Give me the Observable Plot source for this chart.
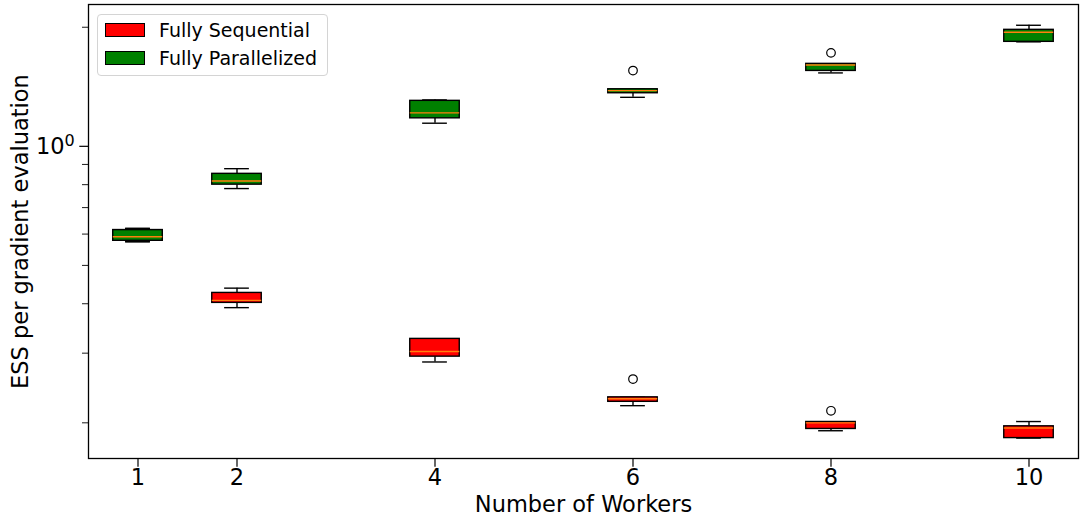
<!DOCTYPE html>
<html>
<head>
<meta charset="utf-8">
<script src="https://cdn.jsdelivr.net/npm/d3@7"></script>
<script src="https://cdn.jsdelivr.net/npm/@observablehq/plot@0.6"></script>
<style>
  html, body { margin: 0; padding: 0; background: white; }
  #wrap { position: relative; width: 1082px; height: 516px; font-family: "DejaVu Sans", sans-serif; }
  #legend {
    position: absolute; left: 97px; top: 14px; width: 229px; height: 60px;
    border: 1px solid #d4d4d4; border-radius: 4px; background: rgba(255,255,255,0.8);
  }
  .sw { position: absolute; left: 7px; width: 38px; height: 12px; border: 1px solid black; }
  .lt { position: absolute; left: 61px; font-size: 19px; line-height: 20px; color: black; white-space: nowrap; }
</style>
</head>
<body>
<div id="wrap">
  <div id="chart"></div>
  <div id="legend">
    <div class="sw" style="top:8px;background:red"></div>
    <div class="lt" style="top:5px">Fully Sequential</div>
    <div class="sw" style="top:36px;background:green"></div>
    <div class="lt" style="top:33px">Fully Parallelized</div>
  </div>
</div>
<script>
// Number of workers on the x axis
const workers = [1, 2, 4, 6, 8, 10];

// Fully sequential: whisker low, Q1, median, Q3, whisker high
const seqLow  = [0.574, 0.391, 0.285, 0.221, 0.191, 0.183];
const seqQ1   = [0.577, 0.402, 0.294, 0.226, 0.193, 0.183];
const seqMed  = [0.591, 0.408, 0.303, 0.230, 0.200, 0.194];
const seqQ3   = [0.614, 0.426, 0.326, 0.232, 0.201, 0.196];
const seqHigh = [0.620, 0.438, 0.326, 0.232, 0.201, 0.2015];

// Fully parallelized
const parLow  = [0.574, 0.782, 1.144, 1.330, 1.533, 1.837];
const parQ1   = [0.577, 0.800, 1.177, 1.362, 1.551, 1.837];
const parMed  = [0.591, 0.817, 1.215, 1.383, 1.606, 1.943];
const parQ3   = [0.614, 0.852, 1.303, 1.394, 1.616, 1.970];
const parHigh = [0.620, 0.878, 1.310, 1.394, 1.616, 2.023];

// Outliers (fliers)
const outWorkers = [6, 8, 6, 8];
const outValues  = [0.258, 0.2145, 1.554, 1.723];

// Y axis ticks
const minorTicks = [0.2, 0.3, 0.4, 0.5, 0.6, 0.7, 0.8, 0.9, 2];
const majorTicks = [1];

const boxHalf = 0.25;   // half box width (x units)
const capHalf = 0.125;  // half whisker cap width

function rows(low, q1, med, q3, high) {
  return workers.map((w, i) => ({workers: w, low: low[i], q1: q1[i], med: med[i], q3: q3[i], high: high[i]}));
}
const seqRows = rows(seqLow, seqQ1, seqMed, seqQ3, seqHigh);
const parRows = rows(parLow, parQ1, parMed, parQ3, parHigh);
const outliers = outWorkers.map((w, i) => ({workers: w, value: outValues[i]}));

function boxMarks(data, color) {
  return [
    Plot.ruleX(data, {x: "workers", y1: "low", y2: "q1", stroke: "black", strokeWidth: 1.4}),
    Plot.ruleX(data, {x: "workers", y1: "q3", y2: "high", stroke: "black", strokeWidth: 1.4}),
    Plot.ruleY(data, {y: "low", x1: d => d.workers - capHalf, x2: d => d.workers + capHalf, stroke: "black", strokeWidth: 1.4}),
    Plot.ruleY(data, {y: "high", x1: d => d.workers - capHalf, x2: d => d.workers + capHalf, stroke: "black", strokeWidth: 1.4}),
    Plot.rect(data, {x1: d => d.workers - boxHalf, x2: d => d.workers + boxHalf, y1: "q1", y2: "q3", fill: color, stroke: "black", strokeWidth: 1.4}),
    Plot.ruleY(data, {y: "med", x1: d => d.workers - boxHalf, x2: d => d.workers + boxHalf, stroke: "#ff7f0e", strokeWidth: 1.4})
  ];
}

const chart = Plot.plot({
  width: 1082,
  height: 516,
  marginLeft: 88,
  marginRight: 4,
  marginTop: 4,
  marginBottom: 58,
  style: {fontFamily: "DejaVu Sans", fontSize: "22.5px", color: "black", background: "white"},
  x: {type: "linear", domain: [0.5, 10.5]},
  y: {type: "log", domain: [0.1625, 2.283]},
  marks: [
    ...boxMarks(seqRows, "red"),
    ...boxMarks(parRows, "green"),
    Plot.dot(outliers, {x: "workers", y: "value", r: 4.3, stroke: "black", fill: "none", strokeWidth: 1.2}),
    Plot.frame({stroke: "black", strokeWidth: 1.3}),
    Plot.axisX(workers, {tickSize: 8.7, tickPadding: 2, strokeWidth: 1.2, tickFormat: d => String(d),
      label: "Number of Workers", labelAnchor: "center", labelArrow: "none", labelOffset: 53}),
    Plot.axisY(minorTicks, {tickSize: 6, strokeWidth: 0.9, tickFormat: () => "", label: null}),
    Plot.axisY(majorTicks, {tickSize: 8.7, tickPadding: 5, strokeWidth: 1.2, tickFormat: () => "10",
      label: "ESS per gradient evaluation", labelAnchor: "center", labelArrow: "none", labelOffset: 76})
  ]
});
document.getElementById("chart").appendChild(chart);

// Superscript exponent for the 10^0 label
chart.querySelectorAll('g[aria-label="y-axis tick label"] text').forEach(t => {
  if (t.textContent === "10") {
    const sup = document.createElementNS("http://www.w3.org/2000/svg", "tspan");
    sup.setAttribute("font-size", "16px");
    sup.setAttribute("dy", "-0.45em");
    sup.textContent = "0";
    t.appendChild(sup);
  }
});
</script>
</body>
</html>
